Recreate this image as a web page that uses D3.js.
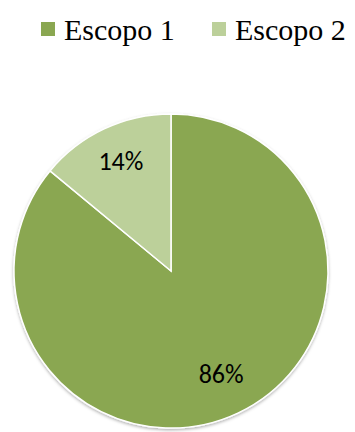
<!DOCTYPE html>
<html>
<head>
<meta charset="utf-8">
<script src="https://cdn.jsdelivr.net/npm/d3@7"></script>
<style>
  html, body { margin: 0; padding: 0; background: #fff; }
</style>
</head>
<body>
<div id="chart"></div>
<script>
  'use strict';

  const CATEGORIES = ['Escopo 1', 'Escopo 2'];
  const VALUES = [86, 14];
  const LABELS = ['86%', '14%'];
  const COLORS = ['#8aa751', '#bcd09a'];

  const width = 355;
  const height = 432;
  const cx = 171;
  const cy = 271;
  const radius = 157;

  const svg = d3.select('#chart')
    .append('svg')
    .attr('width', width)
    .attr('height', height);

  // Soft shadow under the pie
  const defs = svg.append('defs');
  const filter = defs.append('filter')
    .attr('id', 'shadow')
    .attr('x', '-10%').attr('y', '-10%')
    .attr('width', '120%').attr('height', '120%');
  filter.append('feDropShadow')
    .attr('dx', 0).attr('dy', 1.5)
    .attr('stdDeviation', 1.5)
    .attr('flood-color', '#000')
    .attr('flood-opacity', 0.3);

  const data = CATEGORIES.map((c, i) => ({ name: c, value: VALUES[i], label: LABELS[i], color: COLORS[i] }));

  const pie = d3.pie()
    .sort(null)
    .value(d => d.value);

  const arc = d3.arc()
    .innerRadius(0)
    .outerRadius(radius);

  const labelArc = d3.arc()
    .innerRadius(radius * 0.75)
    .outerRadius(radius * 0.75);

  const g = svg.append('g')
    .attr('transform', `translate(${cx},${cy})`);

  g.append('g')
    .attr('filter', 'url(#shadow)')
    .selectAll('path')
    .data(pie(data))
    .enter()
    .append('path')
    .attr('d', arc)
    .attr('fill', d => d.data.color)
    .attr('stroke', '#fff')
    .attr('stroke-width', 1.5);

  g.selectAll('.slice-label')
    .data(pie(data))
    .enter()
    .append('text')
    .attr('class', 'slice-label')
    .attr('transform', d => `translate(${labelArc.centroid(d)})`)
    .attr('text-anchor', 'middle')
    .attr('dy', '0.2em')
    .style('font-family', 'Carlito, Calibri, "Open Sans", sans-serif')
    .style('font-size', '26px')
    .style('fill', '#000')
    .text(d => d.data.label);

  // Legend
  const legendX = [41, 212];
  const legend = svg.append('g').attr('class', 'legend');
  data.forEach((d, i) => {
    const entry = legend.append('g').attr('transform', `translate(${legendX[i]},22)`);
    entry.append('rect')
      .attr('width', 14).attr('height', 14)
      .attr('fill', d.color);
    entry.append('text')
      .attr('x', 23).attr('y', 17.5)
      .style('font-family', '"Liberation Serif", "Times New Roman", serif')
      .style('font-size', '30px')
      .style('fill', '#000')
      .text(d.name);
  });
</script>
</body>
</html>
